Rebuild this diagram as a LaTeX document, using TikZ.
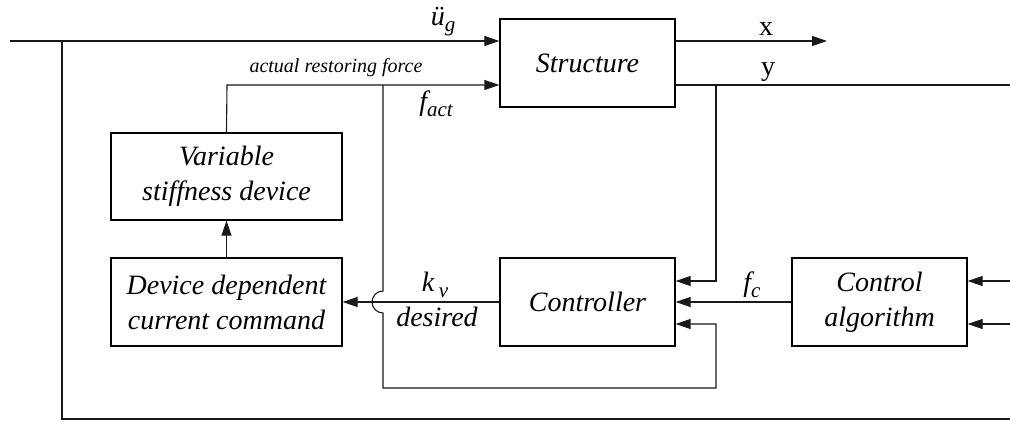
\documentclass[tikz,border=0pt]{standalone}
\usepackage{fontspec}
\setmainfont{Liberation Serif}
\usetikzlibrary{arrows.meta}
\begin{document}
\begin{tikzpicture}[x=1pt,y=1pt,
  blk/.style={draw=black,line width=1.3pt,minimum width=175pt,minimum height=88pt,inner sep=0pt,align=center,font=\fontsize{28}{35}\selectfont\itshape},
  wblk/.style={blk,minimum width=231pt},
  ln/.style={draw=black!90,line width=1.1pt},
  arr/.style={ln,-{Triangle[length=15pt,width=10pt]}},
  lbl/.style={inner sep=0pt,font=\fontsize{28}{30}\selectfont}]
\useasboundingbox (0,0) rectangle (1010,421);
% blocks
\node[blk] (st) at (587.5,358) {Structure};
\node[wblk,minimum height=87pt] (vsd) at (226.5,244.5) {Variable\\stiffness device};
\node[wblk] (ddc) at (226.5,119) {Device dependent\\current command};
\node[blk] (ctl) at (587.5,119) {Controller};
\node[blk] (ca) at (879.5,119) {Control\\algorithm};
% coordinates
\coordinate (in0) at (10,380);
\coordinate (bl1) at (62,380);
\coordinate (bl2) at (62,2);
\coordinate (bl3) at (1010,2);
\coordinate (xo) at (827,380);
\coordinate (yo) at (1010,336);
\coordinate (yt) at (716,336);
\coordinate (yd) at (716,140);
\coordinate (vt) at (227,336);
\coordinate (ft) at (383,336);
\coordinate (fa) at (383,130);
\coordinate (fc) at (383,33);
\coordinate (fd) at (716,33);
\coordinate (fe) at (716,97);
\coordinate (ca1) at (1010,140);
\coordinate (ca2) at (1010,97);
% connectors
\draw[arr] (in0) -- (st.west |- in0);
\draw[ln] (bl1) -- (bl2) -- (bl3);
\draw[arr] (st.east |- xo) -- (xo);
\draw[ln] (st.east |- yo) -- (yo);
\draw[arr] (yt) -- (yd) -- (ctl.east |- yd);
\draw[arr] (ca.west) -- (ctl.east);
\draw[arr] (ca1) -- (ca.east |- ca1);
\draw[arr] (ca2) -- (ca.east |- ca2);
\draw[arr] (ctl.west) -- (ddc.east);
\draw[arr] (ddc.north) -- (vsd.south);
\draw[arr] (vsd.north) -- (vt) -- (st.west |- vt);
\draw[arr] (ft) -- (fa) arc[start angle=90,end angle=270,radius=11] -- (fc) -- (fd) -- (fe) -- (ctl.east |- fe);
% labels
\node[lbl] (lug) at (443,399) {\itshape\"u\raisebox{-6pt}{\fontsize{21}{21}\selectfont g}};
\node[lbl,font=\fontsize{20}{22}\selectfont\itshape] (lar) at (336,353) {actual restoring force};
\node[lbl] (lfa) at (436,317) {\itshape f\raisebox{-6pt}{\fontsize{21}{21}\selectfont act}};
\node[lbl] (lx) at (766,392) {x};
\node[lbl] (ly) at (768,349) {y};
\node[lbl] (lkv) at (435,136) {\itshape k\,\raisebox{-6pt}{\fontsize{21}{21}\selectfont v}};
\node[lbl] (lde) at (437,104) {\itshape desired};
\node[lbl] (lfc) at (752,136) {\itshape f\raisebox{-6pt}{\fontsize{21}{21}\selectfont c}};
\end{tikzpicture}
\end{document}
